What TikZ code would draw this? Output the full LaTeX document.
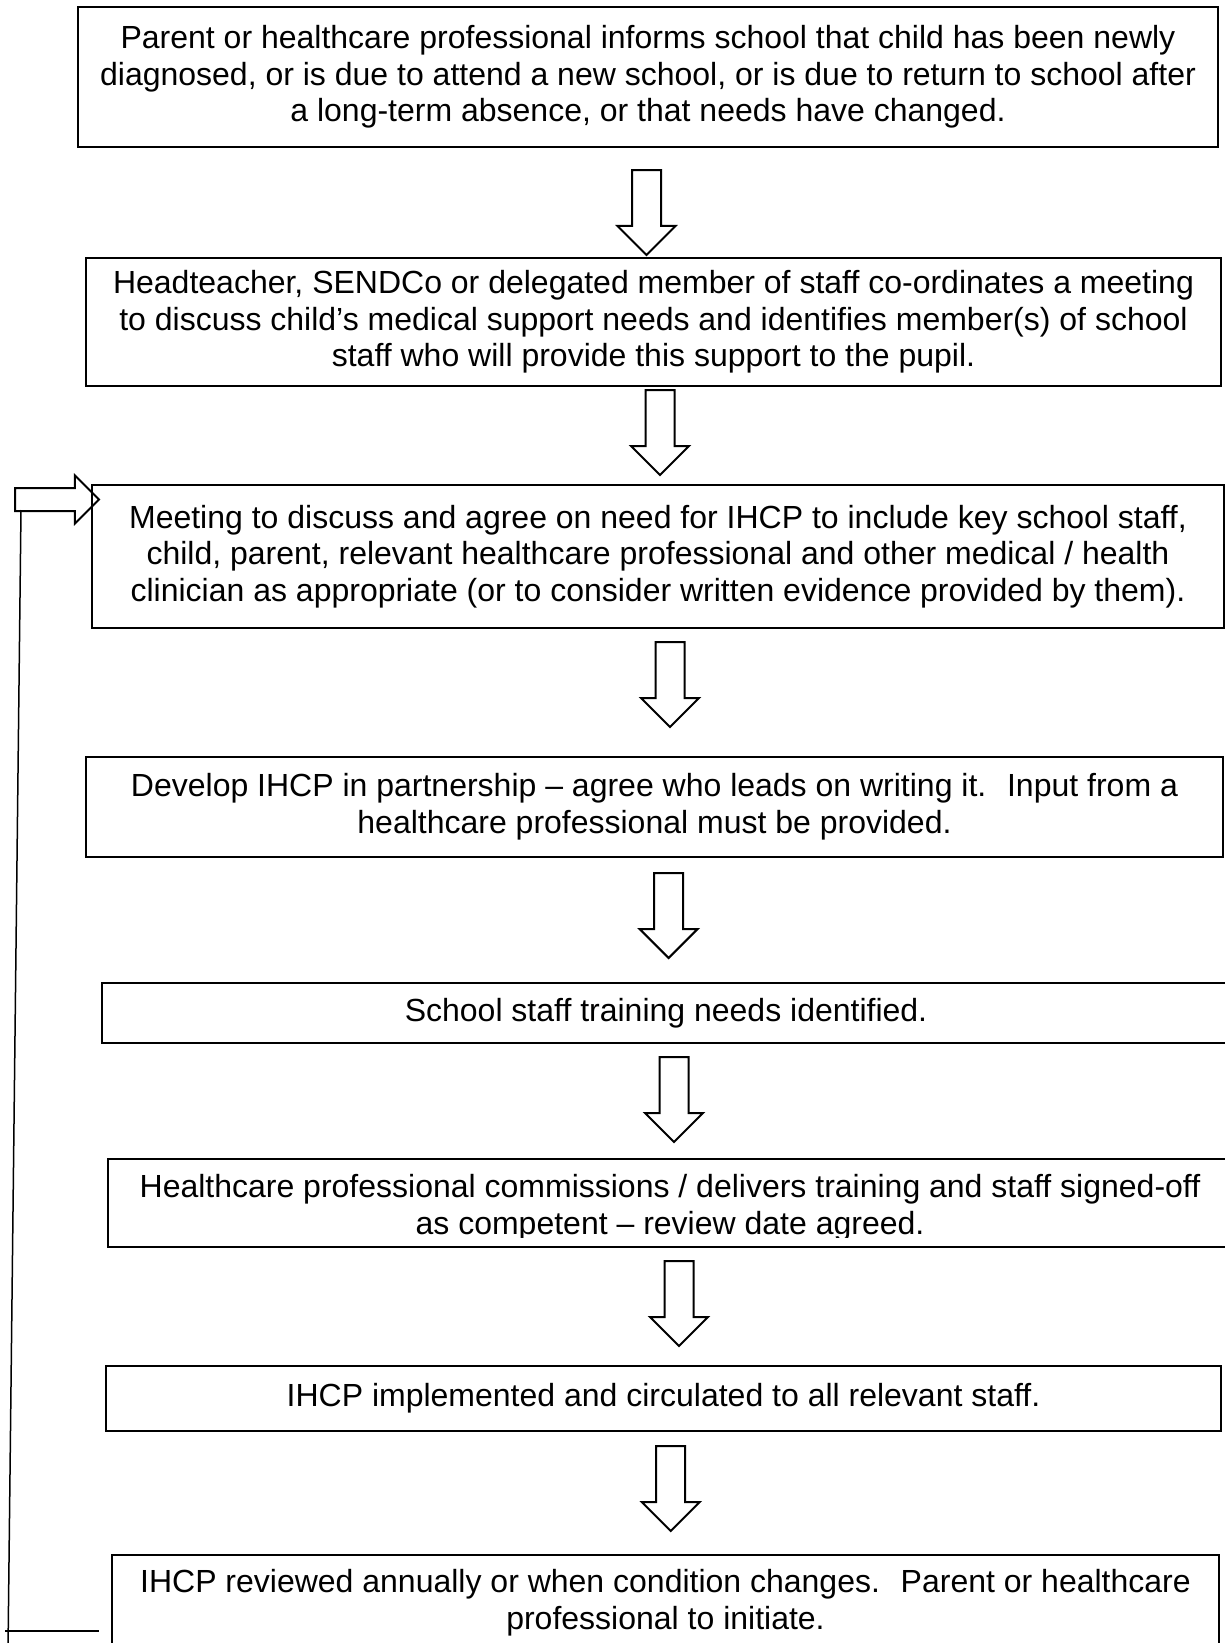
\documentclass[tikz,border=0pt]{standalone}
\usepackage{fontspec}
\setmainfont{Liberation Sans}
\usetikzlibrary{shapes.arrows}

\begin{document}
\begin{tikzpicture}[x=0.5pt, y=-0.5pt,
  every node/.style={font=\fontsize{16pt}{18.3pt}\selectfont},
  stepbox/.style={draw, line width=1pt, align=center, inner sep=0pt},
  downarrow/.style={single arrow, draw, line width=1pt, rotate=-90, anchor=tail, minimum height=42.5pt, minimum width=28pt, single arrow head extend=7.25pt, inner xsep=0pt, inner ysep=6.75pt, outer sep=0pt},
  backline/.style={line width=0.75pt}]
  \useasboundingbox (0,0) rectangle (1225,1643);

  \node[stepbox, minimum width=570pt, minimum height=70pt] (notify) at (648,77) {Parent or healthcare professional informs school that child has been newly\\ diagnosed, or is due to attend a new school, or is due to return to school after\\ a long-term absence, or that needs have changed.};
  \node[downarrow] (a1) at (646.5,170) {};

  \node[stepbox, minimum width=567.5pt, minimum height=64pt] (coord) at (653.5,322) {Headteacher, SENDCo or delegated member of staff co-ordinates a meeting\\ to discuss child’s medical support needs and identifies member(s) of school\\ staff who will provide this support to the pupil.};
  \node[downarrow] (a2) at (660,390) {};

  \node[stepbox, minimum width=566pt, minimum height=71.5pt] (agree) at (658,556.5) {Meeting to discuss and agree on need for IHCP to include key school staff,\\ child, parent, relevant healthcare professional and other medical / health\\ clinician as appropriate (or to consider written evidence provided by them).};
  \node[downarrow] (a3) at (670,642) {};

  \node[stepbox, minimum width=568.5pt, minimum height=50pt] (develop) at (654.5,807) {Develop IHCP in partnership – agree who leads on writing it.~ Input from a\\ healthcare professional must be provided.};
  \node[downarrow] (a4) at (668.6,873) {};

  \node[stepbox, minimum width=564pt, minimum height=30pt] (needs) at (666,1013) {School staff training needs identified.};
  \node[downarrow] (a5) at (674,1057) {};

  \node[stepbox, minimum width=562pt, minimum height=44pt] (train) at (670,1203) {};
  \begin{scope}
    \clip (100,1160) rectangle (1240,1237);
    \node[align=center] (traintext) at (670,1208) {Healthcare professional commissions / delivers training and staff signed-off\\ as competent – review date agreed.};
  \end{scope}
  \node[downarrow] (a6) at (679,1261) {};

  \node[stepbox, minimum width=557.5pt, minimum height=32.5pt] (implement) at (663.5,1398) {IHCP implemented and circulated to all relevant staff.};
  \node[downarrow] (a7) at (670.7,1446) {};

  \node[stepbox, minimum width=553.5pt, minimum height=48pt] (review) at (665.5,1603) {IHCP reviewed annually or when condition changes.~ Parent or healthcare\\ professional to initiate.};

  % loop back to the meeting
  \node[single arrow, draw, line width=1pt, anchor=tail, minimum height=42pt, minimum width=23pt, single arrow head extend=6.25pt, inner xsep=0pt, inner ysep=5.25pt, outer sep=0pt] (loop) at (15,499.5) {};
  \coordinate (looptail) at (21,510);
  \coordinate (loopfoot) at (8,1650);
  \draw[backline] (looptail) -- (loopfoot);
  \coordinate (markL) at (5,1631);
  \coordinate (markR) at (99,1631);
  \draw[backline] (markL) -- (markR);

\end{tikzpicture}
\end{document}
